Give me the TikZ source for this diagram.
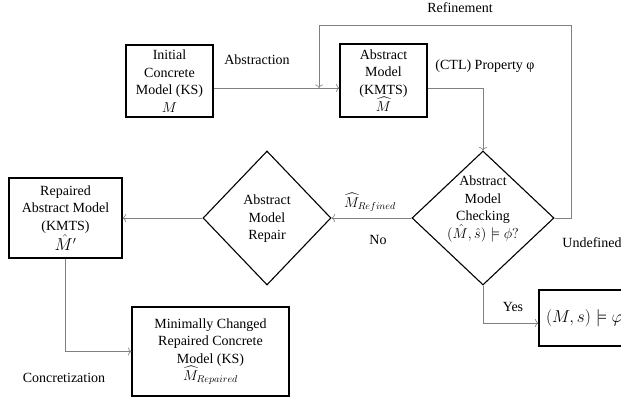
\documentclass[tikz,border=0pt]{standalone}
\usepackage{amsmath}
\usepackage{amssymb}
\usepackage{fontspec}
\setmainfont{Liberation Serif}
\usepackage{tikz}
\usetikzlibrary{shapes.geometric,arrows.meta}

\begin{document}
\begin{tikzpicture}[x=1pt,y=-1pt,
	every node/.style={font=\fontsize{14}{17.5}\selectfont},
	block/.style={draw,line width=1.1pt,align=center,inner sep=0pt},
	decision/.style={diamond,draw,line width=1.1pt,inner sep=0pt},
	conn/.style={draw=gray,-{To[length=3.5pt,width=8pt]},line width=0.6pt}]
	
	\useasboundingbox (0,0) rectangle (621,398);
	\clip (0,0) rectangle (621,398);
	
	% boxes
	\node[block,minimum width=87pt,minimum height=72pt] (init) at (169.5,81) {Initial\\Concrete\\Model (KS)\\$M$};
	\node[block,minimum width=87pt,minimum height=73pt] (abs) at (383.5,80.5) {Abstract\\Model\\(KMTS)\\$\widehat{M}$};
	\node[block,minimum width=113pt,minimum height=80pt] (repd) at (65.5,218) {Repaired\\Abstract Model\\(KMTS)\\{\fontsize{16}{17.5}\selectfont$\hat{M}'$}};
	\node[block,minimum width=157pt,minimum height=89pt] (mini) at (210.5,351.5) {Minimally Changed\\Repaired Concrete\\Model (KS)\\$\widehat{M}_{Repaired}$};
	\node[block,minimum width=110pt,minimum height=56pt,text width=100pt,align=left,font=\fontsize{16}{18}\selectfont] (yes) at (594,318) {\hspace*{2pt}$(M,s)\models\varphi$};
	
	% diamonds
	\node[decision,minimum width=142pt,minimum height=134pt] (check) at (483,218) {};
	\node[align=center] (checktxt) at (483,209) {Abstract\\Model\\Checking\\$(\hat{M},\hat{s})\models\phi?$};
	\node[decision,minimum width=128pt,minimum height=134pt] (rep) at (267,218) {};
	\node[align=center] (reptxt) at (267,219) {Abstract\\Model\\Repair};
	
	\coordinate (refin) at (319,88);
	
	% connectors
	\draw[conn] (init.east |- 0,88) -- (abs.west |- 0,88);
	\draw[conn] (abs.east |- 0,88) -| (check.north);
	\draw[conn] (check.east) -| (571,25) -| (refin);
	\draw[conn] (check.west) -- (rep.east);
	\draw[conn] (rep.west) -- (repd.east);
	\draw[conn] (repd.south) |- (mini.west);
	\draw[conn] (check.south) |- ([yshift=-5pt]yes.west);
	
	% labels
	\node (lababs) at (257,60) {Abstraction};
	\node (labref) at (460,8) {Refinement};
	\node (labctl) at (485,66) {(CTL) Property φ};
	\node (labmref) at (370,202) {$\widehat{M}_{Refined}$};
	\node (labno) at (378,240) {No};
	\node (labund) at (592,243) {Undefined};
	\node (labyes) at (513,307) {Yes};
	\node (labcon) at (64,378) {Concretization};

\end{tikzpicture}
\end{document}
